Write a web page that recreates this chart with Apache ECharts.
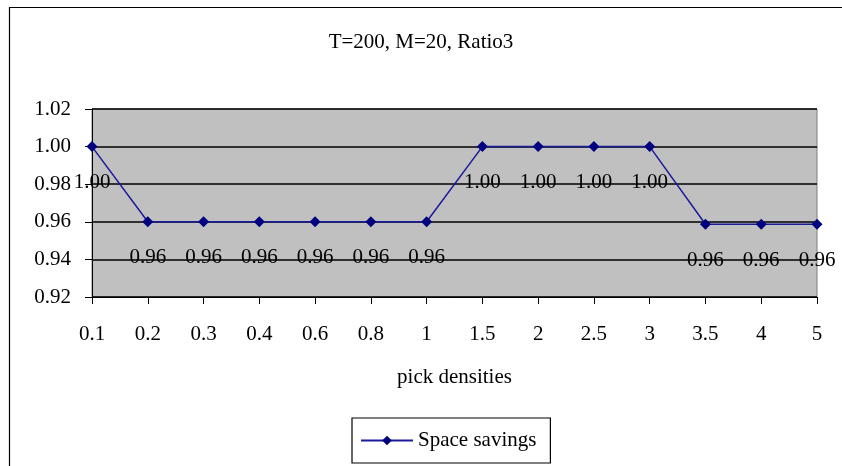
<!DOCTYPE html>
<html>
<head>
<meta charset="utf-8">
<script src="https://cdn.jsdelivr.net/npm/echarts@6/dist/echarts.min.js"></script>
<style>
  html, body { margin: 0; padding: 0; background: #ffffff; }
  #chart { width: 842px; height: 466px; }
</style>
</head>
<body>
<div id="chart"></div>
<script>
// Pick density categories along the x axis
const densities = ['0.1', '0.2', '0.3', '0.4', '0.6', '0.8', '1', '1.5', '2', '2.5', '3', '3.5', '4', '5'];
// Space savings for each pick density
const spaceSavings = [1.00, 0.96, 0.96, 0.96, 0.96, 0.96, 0.96, 1.00, 1.00, 1.00, 1.00, 0.9587, 0.9587, 0.9587];
// Value axis range
const yMin = 0.92;
const yMax = 1.02;
const yStep = 0.02;

const serif = '"Liberation Serif", "Times New Roman", serif';
const chart = echarts.init(document.getElementById('chart'), null, { renderer: 'canvas' });

chart.setOption({
  animation: false,
  backgroundColor: '#ffffff',
  textStyle: { fontFamily: serif, color: '#000' },
  title: {
    text: 'T=200, M=20, Ratio3',
    left: 'center',
    top: 27,
    textStyle: { fontFamily: serif, fontSize: 21, fontWeight: 'normal', color: '#000' }
  },
  grid: {
    left: 92, right: 25, top: 109, bottom: 169,
    show: true,
    backgroundColor: '#c0c0c0',
    borderColor: '#808080',
    borderWidth: 1
  },
  legend: {
    data: ['Space savings'],
    left: 352,
    top: 418,
    orient: 'horizontal',
    backgroundColor: '#ffffff',
    borderColor: '#000',
    borderWidth: 1.2,
    padding: [12, 14, 12, 8],
    itemWidth: 52,
    itemHeight: 12,
    itemGap: 4,
    textStyle: { fontFamily: serif, fontSize: 21, color: '#000' }
  },
  xAxis: {
    type: 'category',
    data: densities,
    boundaryGap: false,
    name: 'pick densities',
    nameLocation: 'middle',
    nameGap: 70,
    nameTextStyle: { fontFamily: serif, fontSize: 21, color: '#000' },
    axisLine: { show: true, lineStyle: { color: '#000', width: 1 } },
    axisTick: { show: true, alignWithLabel: true, length: 7, lineStyle: { color: '#000' } },
    axisLabel: { fontFamily: serif, fontSize: 21, color: '#000', margin: 27 },
    splitLine: { show: false }
  },
  yAxis: {
    type: 'value',
    min: yMin,
    max: yMax,
    interval: yStep,
    axisLine: { show: true, lineStyle: { color: '#000', width: 1 } },
    axisTick: { show: true, length: 7, lineStyle: { color: '#000' } },
    axisLabel: {
      fontFamily: serif, fontSize: 21, color: '#000', margin: 21,
      formatter: v => v.toFixed(2)
    },
    splitLine: { show: true, lineStyle: { color: '#000', width: 1.5 } }
  },
  series: [{
    name: 'Space savings',
    type: 'line',
    data: spaceSavings,
    symbol: 'diamond',
    symbolSize: 11,
    lineStyle: { color: '#1a1a9a', width: 1.5 },
    itemStyle: { color: '#000080' },
    label: {
      show: true,
      position: 'bottom',
      distance: 20,
      fontFamily: serif,
      fontSize: 21,
      color: '#000',
      formatter: p => p.value.toFixed(2)
    }
  }],
  graphic: [{
    type: 'rect',
    shape: { x: 9.5, y: 7.5, width: 850, height: 480 },
    style: { fill: 'none', stroke: '#000', lineWidth: 1.2 },
    silent: true
  }]
});
</script>
</body>
</html>
